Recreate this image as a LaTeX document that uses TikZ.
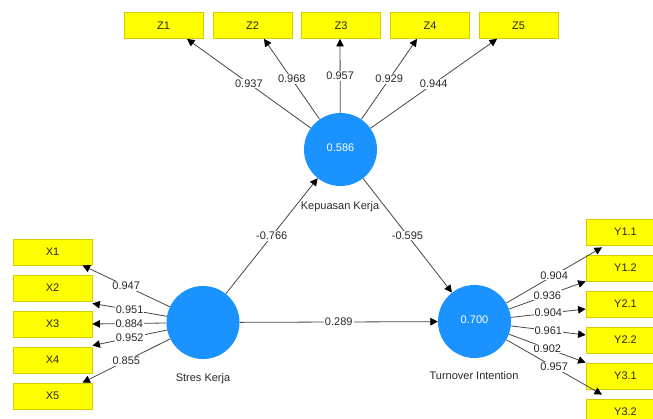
\documentclass[tikz,border=0pt]{standalone}
\usepackage{fontspec}
\setmainfont{Liberation Sans}
\usetikzlibrary{arrows.meta}
\definecolor{boxfill}{RGB}{255,255,0}
\definecolor{boxline}{RGB}{214,204,0}
\definecolor{lvblue}{RGB}{26,146,255}
\definecolor{linegray}{RGB}{70,70,70}
\definecolor{txt}{RGB}{40,40,40}
\begin{document}
\begin{tikzpicture}[x=1pt,y=-1pt,
  every node/.style={font=\fontsize{11pt}{13pt}\selectfont},
  ind/.style={rectangle,fill=boxfill,draw=boxline,line width=0.8pt,minimum width=79pt,minimum height=26pt,inner sep=0pt,text=txt},
  lv/.style={circle,fill=lvblue,minimum size=73pt,inner sep=0pt,text=white},
  lvname/.style={text=txt,inner sep=0pt},
  link/.style={draw=linegray,line width=0.8pt,-{Triangle[length=7.5pt,width=7.5pt,color=black]}},
  coef/.style={midway,fill=white,inner sep=1pt,text=txt}]
\useasboundingbox (0,0) rectangle (653,419);

% latent variables
\node[lv] (kep) at (340.5,149.5) {\raisebox{4pt}{0.586}};
\node[lv] (str) at (203,322.5) {};
\node[lv] (tur) at (474.5,321.5) {\raisebox{4pt}{0.700}};
\node[lvname] (kepn) at (340,207) {Kepuasan Kerja};
\node[lvname] (strn) at (203,379) {Stres Kerja};
\node[lvname] (turn) at (474,376) {Turnover Intention};

% Z indicators
\node[ind] (z1) at (163.5,25.5) {Z1};
\node[ind] (z2) at (252.5,25.5) {Z2};
\node[ind] (z3) at (341,25.5) {Z3};
\node[ind] (z4) at (430,25.5) {Z4};
\node[ind] (z5) at (518.5,25.5) {Z5};

% X indicators
\node[ind] (x1) at (52.5,252) {X1};
\node[ind] (x2) at (52.5,288) {X2};
\node[ind] (x3) at (52.5,324) {X3};
\node[ind] (x4) at (52.5,360) {X4};
\node[ind] (x5) at (52.5,396) {X5};

% Y indicators
\node[ind] (y11) at (625.5,232) {Y1.1};
\node[ind] (y12) at (625.5,268) {Y1.2};
\node[ind] (y21) at (625.5,304) {Y2.1};
\node[ind] (y22) at (625.5,340) {Y2.2};
\node[ind] (y31) at (625.5,376) {Y3.1};
\node[ind] (y32) at (625.5,412) {Y3.2};

% outer loadings Kepuasan
\draw[link] (kep) -- ([xshift=23.5pt]z1.south) node[coef] {0.937};
\draw[link] (kep) -- ([xshift=11.5pt]z2.south) node[coef] {0.968};
\draw[link] (kep) -- ([xshift=-1pt]z3.south) node[coef] {0.957};
\draw[link] (kep) -- ([xshift=-13pt]z4.south) node[coef] {0.929};
\draw[link] (kep) -- ([xshift=-21.5pt]z5.south) node[coef] {0.944};

% outer loadings Stres
\draw[link] (str) -- ([xshift=30pt]x1.south) node[coef] {0.947};
\draw[link] (str) -- ([yshift=-2pt]x2.south east) node[coef] {0.951};
\draw[link] (str) -- (x3.east) node[coef] {0.884};
\draw[link] (str) -- ([yshift=1pt]x4.north east) node[coef] {0.952};
\draw[link] (str) -- ([xshift=30pt]x5.north) node[coef] {0.855};

% outer loadings Turnover
\draw[link] (tur) -- ([xshift=-23.5pt,yshift=-2pt]y11.south) node[coef] {0.904};
\draw[link] (tur) -- (y12.south west) node[coef] {0.936};
\draw[link] (tur) -- ([yshift=-5pt]y21.west) node[coef] {0.904};
\draw[link] (tur) -- ([yshift=5pt]y22.west) node[coef] {0.961};
\draw[link] (tur) -- (y31.north west) node[coef] {0.902};
\draw[link] (tur) -- ([xshift=-23.5pt,yshift=4pt]y32.north) node[coef] {0.957};

% structural paths
\draw[link] (str) -- (kep) node[coef] {-0.766};
\draw[link] (kep) -- (tur) node[coef] {-0.595};
\draw[link] (str) -- (tur) node[coef] {0.289};
\end{tikzpicture}
\end{document}
